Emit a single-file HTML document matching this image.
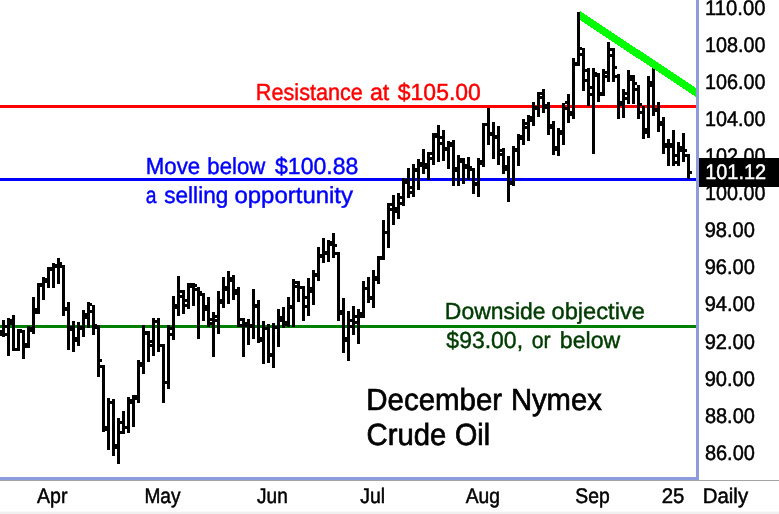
<!DOCTYPE html>
<html><head><meta charset="utf-8"><title>December Nymex Crude Oil</title>
<style>
html,body{margin:0;padding:0;background:#fff;}
svg{display:block}
text{font-family:"Liberation Sans",sans-serif;text-rendering:geometricPrecision;}
</style></head>
<body>
<svg width="779" height="514" viewBox="0 0 779 514">
<rect x="0" y="0" width="779" height="514" fill="#ffffff"/>
<rect x="0" y="511.6" width="779" height="2.4" fill="#f0f0f0"/>
<g shape-rendering="crispEdges">
<rect x="0" y="105" width="696" height="3" fill="#ff0000"/>
<rect x="0" y="178" width="696" height="3" fill="#0000ff"/>
<rect x="0" y="325" width="696" height="3" fill="#008000"/>
</g>
<g fill="#000" shape-rendering="crispEdges">
<rect x="2" y="320" width="3" height="17"/><rect x="7" y="318" width="3" height="38"/><rect x="12" y="315" width="3" height="36"/><rect x="17" y="329" width="3" height="22"/><rect x="22" y="330" width="3" height="29"/><rect x="27" y="326" width="3" height="22"/><rect x="32" y="297" width="3" height="37"/><rect x="37" y="283" width="3" height="31"/><rect x="42" y="277" width="3" height="23"/><rect x="47" y="267" width="3" height="21"/><rect x="52" y="263" width="3" height="25"/><rect x="57" y="258" width="3" height="26"/><rect x="62" y="265" width="3" height="51"/><rect x="67" y="302" width="3" height="48"/><rect x="72" y="321" width="3" height="31"/><rect x="77" y="322" width="3" height="24"/><rect x="82" y="310" width="3" height="27"/><rect x="87" y="302" width="3" height="26"/><rect x="92" y="305" width="3" height="30"/><rect x="97" y="325" width="3" height="52"/><rect x="102" y="365" width="3" height="67"/><rect x="107" y="398" width="3" height="52"/><rect x="112" y="399" width="3" height="57"/><rect x="117" y="418" width="3" height="46"/><rect x="122" y="411" width="3" height="23"/><rect x="127" y="397" width="3" height="36"/><rect x="132" y="395" width="3" height="32"/><rect x="137" y="360" width="3" height="43"/><rect x="142" y="325" width="3" height="49"/><rect x="147" y="331" width="3" height="31"/><rect x="152" y="318" width="3" height="38"/><rect x="157" y="318" width="3" height="34"/><rect x="162" y="344" width="3" height="59"/><rect x="167" y="325" width="3" height="64"/><rect x="172" y="296" width="3" height="44"/><rect x="177" y="276" width="3" height="40"/><rect x="182" y="290" width="3" height="24"/><rect x="187" y="283" width="3" height="26"/><rect x="192" y="283" width="3" height="23"/><rect x="197" y="287" width="3" height="52"/><rect x="202" y="293" width="3" height="28"/><rect x="207" y="297" width="3" height="30"/><rect x="212" y="312" width="3" height="45"/><rect x="217" y="291" width="3" height="43"/><rect x="222" y="277" width="3" height="31"/><rect x="227" y="271" width="3" height="33"/><rect x="232" y="275" width="3" height="25"/><rect x="237" y="287" width="3" height="40"/><rect x="242" y="318" width="3" height="39"/><rect x="247" y="319" width="3" height="26"/><rect x="252" y="289" width="3" height="50"/><rect x="257" y="300" width="3" height="43"/><rect x="262" y="321" width="3" height="43"/><rect x="267" y="324" width="3" height="39"/><rect x="272" y="323" width="3" height="45"/><rect x="277" y="309" width="3" height="38"/><rect x="282" y="307" width="3" height="21"/><rect x="287" y="297" width="3" height="30"/><rect x="292" y="279" width="3" height="48"/><rect x="297" y="281" width="3" height="21"/><rect x="302" y="286" width="3" height="35"/><rect x="307" y="278" width="3" height="38"/><rect x="312" y="270" width="3" height="35"/><rect x="317" y="247" width="3" height="34"/><rect x="322" y="238" width="3" height="25"/><rect x="327" y="240" width="3" height="22"/><rect x="332" y="233" width="3" height="25"/><rect x="337" y="252" width="3" height="69"/><rect x="342" y="298" width="3" height="55"/><rect x="347" y="311" width="3" height="50"/><rect x="352" y="306" width="3" height="29"/><rect x="357" y="309" width="3" height="35"/><rect x="362" y="281" width="3" height="37"/><rect x="367" y="277" width="3" height="26"/><rect x="372" y="270" width="3" height="38"/><rect x="377" y="256" width="3" height="28"/><rect x="382" y="220" width="3" height="40"/><rect x="387" y="203" width="3" height="45"/><rect x="392" y="195" width="3" height="30"/><rect x="397" y="193" width="3" height="26"/><rect x="402" y="178" width="3" height="28"/><rect x="407" y="168" width="3" height="30"/><rect x="412" y="164" width="3" height="33"/><rect x="417" y="159" width="3" height="31"/><rect x="422" y="149" width="3" height="25"/><rect x="427" y="152" width="3" height="28"/><rect x="432" y="133" width="3" height="32"/><rect x="437" y="125" width="3" height="37"/><rect x="442" y="130" width="3" height="31"/><rect x="447" y="141" width="3" height="28"/><rect x="452" y="140" width="3" height="46"/><rect x="457" y="155" width="3" height="31"/><rect x="462" y="158" width="3" height="26"/><rect x="467" y="157" width="3" height="23"/><rect x="472" y="168" width="3" height="26"/><rect x="477" y="158" width="3" height="39"/><rect x="482" y="123" width="3" height="44"/><rect x="487" y="108" width="3" height="37"/><rect x="492" y="122" width="3" height="37"/><rect x="497" y="126" width="3" height="39"/><rect x="502" y="148" width="3" height="26"/><rect x="507" y="156" width="3" height="46"/><rect x="512" y="146" width="3" height="40"/><rect x="517" y="134" width="3" height="32"/><rect x="522" y="119" width="3" height="26"/><rect x="527" y="115" width="3" height="26"/><rect x="532" y="102" width="3" height="24"/><rect x="537" y="92" width="3" height="25"/><rect x="542" y="89" width="3" height="24"/><rect x="547" y="102" width="3" height="33"/><rect x="552" y="121" width="3" height="34"/><rect x="557" y="128" width="3" height="28"/><rect x="562" y="103" width="3" height="42"/><rect x="567" y="94" width="3" height="29"/><rect x="572" y="58" width="3" height="61"/><rect x="577" y="12" width="3" height="54"/><rect x="582" y="48" width="3" height="43"/><rect x="587" y="68" width="3" height="38"/><rect x="592" y="68" width="3" height="86"/><rect x="597" y="73" width="3" height="29"/><rect x="602" y="69" width="3" height="27"/><rect x="607" y="42" width="3" height="40"/><rect x="612" y="48" width="3" height="34"/><rect x="617" y="74" width="3" height="45"/><rect x="622" y="89" width="3" height="29"/><rect x="627" y="70" width="3" height="34"/><rect x="632" y="75" width="3" height="29"/><rect x="637" y="85" width="3" height="34"/><rect x="642" y="106" width="3" height="33"/><rect x="647" y="76" width="3" height="62"/><rect x="652" y="68" width="3" height="48"/><rect x="657" y="102" width="3" height="30"/><rect x="662" y="117" width="3" height="37"/><rect x="667" y="139" width="3" height="27"/><rect x="672" y="130" width="3" height="36"/><rect x="677" y="142" width="3" height="24"/><rect x="682" y="133" width="3" height="29"/><rect x="687" y="154" width="3" height="25"/><rect x="0" y="333" width="2" height="3"/><rect x="5" y="333" width="2" height="3"/><rect x="5" y="325" width="2" height="3"/><rect x="10" y="319" width="2" height="3"/><rect x="10" y="322" width="2" height="3"/><rect x="15" y="348" width="2" height="3"/><rect x="15" y="348" width="2" height="3"/><rect x="20" y="329" width="2" height="3"/><rect x="20" y="330" width="2" height="3"/><rect x="25" y="343" width="2" height="3"/><rect x="25" y="345" width="2" height="3"/><rect x="30" y="327" width="2" height="3"/><rect x="30" y="329" width="2" height="3"/><rect x="35" y="308" width="2" height="3"/><rect x="35" y="311" width="2" height="3"/><rect x="40" y="283" width="2" height="3"/><rect x="40" y="284" width="2" height="3"/><rect x="45" y="278" width="2" height="3"/><rect x="45" y="280" width="2" height="3"/><rect x="50" y="267" width="2" height="3"/><rect x="50" y="268" width="2" height="3"/><rect x="55" y="264" width="2" height="3"/><rect x="55" y="265" width="2" height="3"/><rect x="60" y="262" width="2" height="3"/><rect x="60" y="265" width="2" height="3"/><rect x="65" y="307" width="2" height="3"/><rect x="65" y="308" width="2" height="3"/><rect x="70" y="326" width="2" height="3"/><rect x="70" y="328" width="2" height="3"/><rect x="75" y="337" width="2" height="3"/><rect x="75" y="339" width="2" height="3"/><rect x="80" y="326" width="2" height="3"/><rect x="80" y="327" width="2" height="3"/><rect x="85" y="313" width="2" height="3"/><rect x="85" y="316" width="2" height="3"/><rect x="90" y="303" width="2" height="3"/><rect x="90" y="310" width="2" height="3"/><rect x="95" y="324" width="2" height="3"/><rect x="95" y="326" width="2" height="3"/><rect x="100" y="359" width="2" height="3"/><rect x="100" y="365" width="2" height="3"/><rect x="105" y="426" width="2" height="3"/><rect x="105" y="428" width="2" height="3"/><rect x="110" y="401" width="2" height="3"/><rect x="110" y="401" width="2" height="3"/><rect x="115" y="444" width="2" height="3"/><rect x="115" y="446" width="2" height="3"/><rect x="120" y="421" width="2" height="3"/><rect x="120" y="431" width="2" height="3"/><rect x="125" y="426" width="2" height="3"/><rect x="125" y="426" width="2" height="3"/><rect x="130" y="399" width="2" height="3"/><rect x="130" y="401" width="2" height="3"/><rect x="135" y="395" width="2" height="3"/><rect x="135" y="397" width="2" height="3"/><rect x="140" y="362" width="2" height="3"/><rect x="140" y="364" width="2" height="3"/><rect x="145" y="331" width="2" height="3"/><rect x="145" y="332" width="2" height="3"/><rect x="150" y="344" width="2" height="3"/><rect x="150" y="340" width="2" height="3"/><rect x="155" y="320" width="2" height="3"/><rect x="155" y="320" width="2" height="3"/><rect x="160" y="344" width="2" height="3"/><rect x="160" y="344" width="2" height="3"/><rect x="165" y="381" width="2" height="3"/><rect x="165" y="381" width="2" height="3"/><rect x="170" y="327" width="2" height="3"/><rect x="170" y="333" width="2" height="3"/><rect x="175" y="304" width="2" height="3"/><rect x="175" y="306" width="2" height="3"/><rect x="180" y="290" width="2" height="3"/><rect x="180" y="295" width="2" height="3"/><rect x="185" y="299" width="2" height="3"/><rect x="185" y="304" width="2" height="3"/><rect x="190" y="283" width="2" height="3"/><rect x="190" y="285" width="2" height="3"/><rect x="195" y="284" width="2" height="3"/><rect x="195" y="288" width="2" height="3"/><rect x="200" y="291" width="2" height="3"/><rect x="200" y="293" width="2" height="3"/><rect x="205" y="305" width="2" height="3"/><rect x="205" y="308" width="2" height="3"/><rect x="210" y="318" width="2" height="3"/><rect x="210" y="322" width="2" height="3"/><rect x="215" y="315" width="2" height="3"/><rect x="215" y="319" width="2" height="3"/><rect x="220" y="299" width="2" height="3"/><rect x="220" y="301" width="2" height="3"/><rect x="225" y="286" width="2" height="3"/><rect x="225" y="288" width="2" height="3"/><rect x="230" y="277" width="2" height="3"/><rect x="230" y="279" width="2" height="3"/><rect x="235" y="289" width="2" height="3"/><rect x="235" y="292" width="2" height="3"/><rect x="240" y="324" width="2" height="3"/><rect x="240" y="318" width="2" height="3"/><rect x="245" y="322" width="2" height="3"/><rect x="245" y="324" width="2" height="3"/><rect x="250" y="324" width="2" height="3"/><rect x="250" y="325" width="2" height="3"/><rect x="255" y="304" width="2" height="3"/><rect x="255" y="305" width="2" height="3"/><rect x="260" y="337" width="2" height="3"/><rect x="260" y="339" width="2" height="3"/><rect x="265" y="327" width="2" height="3"/><rect x="265" y="327" width="2" height="3"/><rect x="270" y="353" width="2" height="3"/><rect x="270" y="354" width="2" height="3"/><rect x="275" y="326" width="2" height="3"/><rect x="275" y="326" width="2" height="3"/><rect x="280" y="316" width="2" height="3"/><rect x="280" y="319" width="2" height="3"/><rect x="285" y="321" width="2" height="3"/><rect x="285" y="323" width="2" height="3"/><rect x="290" y="305" width="2" height="3"/><rect x="290" y="306" width="2" height="3"/><rect x="295" y="281" width="2" height="3"/><rect x="295" y="285" width="2" height="3"/><rect x="300" y="286" width="2" height="3"/><rect x="300" y="286" width="2" height="3"/><rect x="305" y="296" width="2" height="3"/><rect x="305" y="305" width="2" height="3"/><rect x="310" y="287" width="2" height="3"/><rect x="310" y="290" width="2" height="3"/><rect x="315" y="273" width="2" height="3"/><rect x="315" y="274" width="2" height="3"/><rect x="320" y="254" width="2" height="3"/><rect x="320" y="255" width="2" height="3"/><rect x="325" y="251" width="2" height="3"/><rect x="325" y="252" width="2" height="3"/><rect x="330" y="241" width="2" height="3"/><rect x="330" y="243" width="2" height="3"/><rect x="335" y="244" width="2" height="3"/><rect x="335" y="252" width="2" height="3"/><rect x="340" y="310" width="2" height="3"/><rect x="340" y="312" width="2" height="3"/><rect x="345" y="337" width="2" height="3"/><rect x="345" y="339" width="2" height="3"/><rect x="350" y="319" width="2" height="3"/><rect x="350" y="325" width="2" height="3"/><rect x="355" y="315" width="2" height="3"/><rect x="355" y="321" width="2" height="3"/><rect x="360" y="312" width="2" height="3"/><rect x="360" y="315" width="2" height="3"/><rect x="365" y="287" width="2" height="3"/><rect x="365" y="287" width="2" height="3"/><rect x="370" y="296" width="2" height="3"/><rect x="370" y="297" width="2" height="3"/><rect x="375" y="276" width="2" height="3"/><rect x="375" y="278" width="2" height="3"/><rect x="380" y="256" width="2" height="3"/><rect x="380" y="257" width="2" height="3"/><rect x="385" y="231" width="2" height="3"/><rect x="385" y="231" width="2" height="3"/><rect x="390" y="203" width="2" height="3"/><rect x="390" y="208" width="2" height="3"/><rect x="395" y="207" width="2" height="3"/><rect x="395" y="210" width="2" height="3"/><rect x="400" y="196" width="2" height="3"/><rect x="400" y="202" width="2" height="3"/><rect x="405" y="179" width="2" height="3"/><rect x="405" y="181" width="2" height="3"/><rect x="410" y="186" width="2" height="3"/><rect x="410" y="191" width="2" height="3"/><rect x="415" y="168" width="2" height="3"/><rect x="415" y="169" width="2" height="3"/><rect x="420" y="162" width="2" height="3"/><rect x="420" y="164" width="2" height="3"/><rect x="425" y="163" width="2" height="3"/><rect x="425" y="166" width="2" height="3"/><rect x="430" y="152" width="2" height="3"/><rect x="430" y="157" width="2" height="3"/><rect x="435" y="133" width="2" height="3"/><rect x="435" y="135" width="2" height="3"/><rect x="440" y="136" width="2" height="3"/><rect x="440" y="142" width="2" height="3"/><rect x="445" y="147" width="2" height="3"/><rect x="445" y="148" width="2" height="3"/><rect x="450" y="142" width="2" height="3"/><rect x="450" y="144" width="2" height="3"/><rect x="455" y="167" width="2" height="3"/><rect x="455" y="169" width="2" height="3"/><rect x="460" y="158" width="2" height="3"/><rect x="460" y="160" width="2" height="3"/><rect x="465" y="164" width="2" height="3"/><rect x="465" y="166" width="2" height="3"/><rect x="470" y="166" width="2" height="3"/><rect x="470" y="168" width="2" height="3"/><rect x="475" y="182" width="2" height="3"/><rect x="475" y="183" width="2" height="3"/><rect x="480" y="160" width="2" height="3"/><rect x="480" y="162" width="2" height="3"/><rect x="485" y="123" width="2" height="3"/><rect x="485" y="123" width="2" height="3"/><rect x="490" y="132" width="2" height="3"/><rect x="490" y="133" width="2" height="3"/><rect x="495" y="135" width="2" height="3"/><rect x="495" y="136" width="2" height="3"/><rect x="500" y="149" width="2" height="3"/><rect x="500" y="153" width="2" height="3"/><rect x="505" y="165" width="2" height="3"/><rect x="505" y="168" width="2" height="3"/><rect x="510" y="181" width="2" height="3"/><rect x="510" y="182" width="2" height="3"/><rect x="515" y="148" width="2" height="3"/><rect x="515" y="149" width="2" height="3"/><rect x="520" y="135" width="2" height="3"/><rect x="520" y="137" width="2" height="3"/><rect x="525" y="122" width="2" height="3"/><rect x="525" y="126" width="2" height="3"/><rect x="530" y="116" width="2" height="3"/><rect x="530" y="119" width="2" height="3"/><rect x="535" y="106" width="2" height="3"/><rect x="535" y="107" width="2" height="3"/><rect x="540" y="92" width="2" height="3"/><rect x="540" y="96" width="2" height="3"/><rect x="545" y="104" width="2" height="3"/><rect x="545" y="106" width="2" height="3"/><rect x="550" y="124" width="2" height="3"/><rect x="550" y="126" width="2" height="3"/><rect x="555" y="146" width="2" height="3"/><rect x="555" y="148" width="2" height="3"/><rect x="560" y="130" width="2" height="3"/><rect x="560" y="132" width="2" height="3"/><rect x="565" y="107" width="2" height="3"/><rect x="565" y="101" width="2" height="3"/><rect x="570" y="111" width="2" height="3"/><rect x="570" y="113" width="2" height="3"/><rect x="575" y="62" width="2" height="3"/><rect x="575" y="63" width="2" height="3"/><rect x="580" y="47" width="2" height="3"/><rect x="580" y="53" width="2" height="3"/><rect x="585" y="79" width="2" height="3"/><rect x="585" y="69" width="2" height="3"/><rect x="590" y="86" width="2" height="3"/><rect x="590" y="93" width="2" height="3"/><rect x="595" y="72" width="2" height="3"/><rect x="595" y="74" width="2" height="3"/><rect x="600" y="92" width="2" height="3"/><rect x="600" y="93" width="2" height="3"/><rect x="605" y="71" width="2" height="3"/><rect x="605" y="75" width="2" height="3"/><rect x="610" y="54" width="2" height="3"/><rect x="610" y="48" width="2" height="3"/><rect x="615" y="66" width="2" height="3"/><rect x="615" y="75" width="2" height="3"/><rect x="620" y="101" width="2" height="3"/><rect x="620" y="103" width="2" height="3"/><rect x="625" y="92" width="2" height="3"/><rect x="625" y="97" width="2" height="3"/><rect x="630" y="75" width="2" height="3"/><rect x="630" y="78" width="2" height="3"/><rect x="635" y="82" width="2" height="3"/><rect x="635" y="88" width="2" height="3"/><rect x="640" y="103" width="2" height="3"/><rect x="640" y="111" width="2" height="3"/><rect x="645" y="128" width="2" height="3"/><rect x="645" y="131" width="2" height="3"/><rect x="650" y="81" width="2" height="3"/><rect x="650" y="84" width="2" height="3"/><rect x="655" y="108" width="2" height="3"/><rect x="655" y="109" width="2" height="3"/><rect x="660" y="121" width="2" height="3"/><rect x="660" y="123" width="2" height="3"/><rect x="665" y="143" width="2" height="3"/><rect x="665" y="145" width="2" height="3"/><rect x="670" y="143" width="2" height="3"/><rect x="670" y="145" width="2" height="3"/><rect x="675" y="154" width="2" height="3"/><rect x="675" y="161" width="2" height="3"/><rect x="680" y="146" width="2" height="3"/><rect x="680" y="149" width="2" height="3"/><rect x="685" y="149" width="2" height="3"/><rect x="685" y="154" width="2" height="3"/><rect x="690" y="171" width="2" height="3"/><rect x="0" y="330" width="2" height="3"/>
</g>
<polygon points="580,11 696,88 696,97 580,20" fill="#00ff00" shape-rendering="crispEdges"/>
<g shape-rendering="crispEdges">
<rect x="0" y="480" width="779" height="1" fill="#a4a4a4"/>
<rect x="696" y="0" width="3" height="480" fill="#8c9cdc"/>
<rect x="0" y="477" width="699" height="3" fill="#8c9cdc"/>
</g>
<text y="100" font-size="23.2px" fill="#ff0000" stroke="#ff0000" stroke-width="0.45"><tspan x="255.87" textLength="107.04" lengthAdjust="spacingAndGlyphs">Resistance</tspan> <tspan x="369.9" textLength="19.4" lengthAdjust="spacingAndGlyphs">at</tspan> <tspan x="397.85" textLength="82.97" lengthAdjust="spacingAndGlyphs">$105.00</tspan></text>
<text y="174" font-size="23.2px" fill="#0000ff" stroke="#0000ff" stroke-width="0.45"><tspan x="145.82" textLength="54.39" lengthAdjust="spacingAndGlyphs">Move</tspan> <tspan x="207.37" textLength="57.92" lengthAdjust="spacingAndGlyphs">below</tspan> <tspan x="275.05" textLength="83.37" lengthAdjust="spacingAndGlyphs">$100.88</tspan></text>
<text y="203" font-size="23.2px" fill="#0000ff" stroke="#0000ff" stroke-width="0.45"><tspan x="145.87" textLength="10.76" lengthAdjust="spacingAndGlyphs">a</tspan> <tspan x="164.27" textLength="63.99" lengthAdjust="spacingAndGlyphs">selling</tspan> <tspan x="234.47" textLength="118.52" lengthAdjust="spacingAndGlyphs">opportunity</tspan></text>
<text y="319" font-size="23.2px" fill="#003c00" stroke="#003c00" stroke-width="0.45"><tspan x="444.87" textLength="100.65" lengthAdjust="spacingAndGlyphs">Downside</tspan> <tspan x="551.48" textLength="93.47" lengthAdjust="spacingAndGlyphs">objective</tspan></text>
<text y="348" font-size="23.2px" fill="#003c00" stroke="#003c00" stroke-width="0.45"><tspan x="446.35" textLength="76.71" lengthAdjust="spacingAndGlyphs">$93.00,</tspan> <tspan x="531.68" textLength="18.96" lengthAdjust="spacingAndGlyphs">or</tspan> <tspan x="559.81" textLength="60.39" lengthAdjust="spacingAndGlyphs">below</tspan></text>
<text y="410" font-size="30.5px" fill="#000000" stroke="#000000" stroke-width="0.7"><tspan x="366.29" textLength="135.85" lengthAdjust="spacingAndGlyphs">December</tspan> <tspan x="510.91" textLength="90.88" lengthAdjust="spacingAndGlyphs">Nymex</tspan></text>
<text y="445" font-size="30.5px" fill="#000000" stroke="#000000" stroke-width="0.7"><tspan x="366.56" textLength="79.71" lengthAdjust="spacingAndGlyphs">Crude</tspan> <tspan x="455.02" textLength="35.09" lengthAdjust="spacingAndGlyphs">Oil</tspan></text>
<text y="503" font-size="21.2px" fill="#000000" stroke="#000000" stroke-width="0.5"><tspan x="37" textLength="30.42" lengthAdjust="spacingAndGlyphs">Apr</tspan></text>
<text y="503" font-size="21.2px" fill="#000000" stroke="#000000" stroke-width="0.5"><tspan x="144.45" textLength="36.08" lengthAdjust="spacingAndGlyphs">May</tspan></text>
<text y="503" font-size="21.2px" fill="#000000" stroke="#000000" stroke-width="0.5"><tspan x="257.08" textLength="30.68" lengthAdjust="spacingAndGlyphs">Jun</tspan></text>
<text y="503" font-size="21.2px" fill="#000000" stroke="#000000" stroke-width="0.5"><tspan x="360.17" textLength="24.86" lengthAdjust="spacingAndGlyphs">Jul</tspan></text>
<text y="503" font-size="21.2px" fill="#000000" stroke="#000000" stroke-width="0.5"><tspan x="465.7" textLength="34.19" lengthAdjust="spacingAndGlyphs">Aug</tspan></text>
<text y="503" font-size="21.2px" fill="#000000" stroke="#000000" stroke-width="0.5"><tspan x="575.29" textLength="34.35" lengthAdjust="spacingAndGlyphs">Sep</tspan></text>
<text y="503" font-size="21.2px" fill="#000000" stroke="#000000" stroke-width="0.5"><tspan x="661.74" textLength="22.66" lengthAdjust="spacingAndGlyphs">25</tspan></text>
<text y="503" font-size="21.2px" fill="#000000" stroke="#000000" stroke-width="0.5"><tspan x="702.76" textLength="45.33" lengthAdjust="spacingAndGlyphs">Daily</tspan></text>
<text y="15" font-size="21.2px" fill="#000000" stroke="#000000" stroke-width="0.5"><tspan x="704.96" textLength="60.54" lengthAdjust="spacingAndGlyphs">110.00</tspan></text>
<text y="52" font-size="21.2px" fill="#000000" stroke="#000000" stroke-width="0.5"><tspan x="705" textLength="60.56" lengthAdjust="spacingAndGlyphs">108.00</tspan></text>
<text y="89" font-size="21.2px" fill="#000000" stroke="#000000" stroke-width="0.5"><tspan x="705" textLength="60.56" lengthAdjust="spacingAndGlyphs">106.00</tspan></text>
<text y="126" font-size="21.2px" fill="#000000" stroke="#000000" stroke-width="0.5"><tspan x="705" textLength="60.56" lengthAdjust="spacingAndGlyphs">104.00</tspan></text>
<text y="163" font-size="21.2px" fill="#000000" stroke="#000000" stroke-width="0.5"><tspan x="705" textLength="60.56" lengthAdjust="spacingAndGlyphs">102.00</tspan></text>
<text y="200" font-size="21.2px" fill="#000000" stroke="#000000" stroke-width="0.5"><tspan x="705" textLength="60.56" lengthAdjust="spacingAndGlyphs">100.00</tspan></text>
<text y="237" font-size="21.2px" fill="#000000" stroke="#000000" stroke-width="0.5"><tspan x="704.65" textLength="50.29" lengthAdjust="spacingAndGlyphs">98.00</tspan></text>
<text y="274" font-size="21.2px" fill="#000000" stroke="#000000" stroke-width="0.5"><tspan x="704.65" textLength="50.29" lengthAdjust="spacingAndGlyphs">96.00</tspan></text>
<text y="311" font-size="21.2px" fill="#000000" stroke="#000000" stroke-width="0.5"><tspan x="704.65" textLength="50.29" lengthAdjust="spacingAndGlyphs">94.00</tspan></text>
<text y="349" font-size="21.2px" fill="#000000" stroke="#000000" stroke-width="0.5"><tspan x="704.65" textLength="50.29" lengthAdjust="spacingAndGlyphs">92.00</tspan></text>
<text y="386" font-size="21.2px" fill="#000000" stroke="#000000" stroke-width="0.5"><tspan x="704.65" textLength="50.29" lengthAdjust="spacingAndGlyphs">90.00</tspan></text>
<text y="423" font-size="21.2px" fill="#000000" stroke="#000000" stroke-width="0.5"><tspan x="704.89" textLength="50.05" lengthAdjust="spacingAndGlyphs">88.00</tspan></text>
<text y="460" font-size="21.2px" fill="#000000" stroke="#000000" stroke-width="0.5"><tspan x="704.89" textLength="50.05" lengthAdjust="spacingAndGlyphs">86.00</tspan></text>
<rect x="699" y="158" width="80" height="29" fill="#000" shape-rendering="crispEdges"/>
<text y="179" font-size="21.2px" fill="#ffffff" stroke="#ffffff" stroke-width="0.5"><tspan x="705.19" textLength="60.91" lengthAdjust="spacingAndGlyphs">101.12</tspan></text>
</svg>
</body></html>
